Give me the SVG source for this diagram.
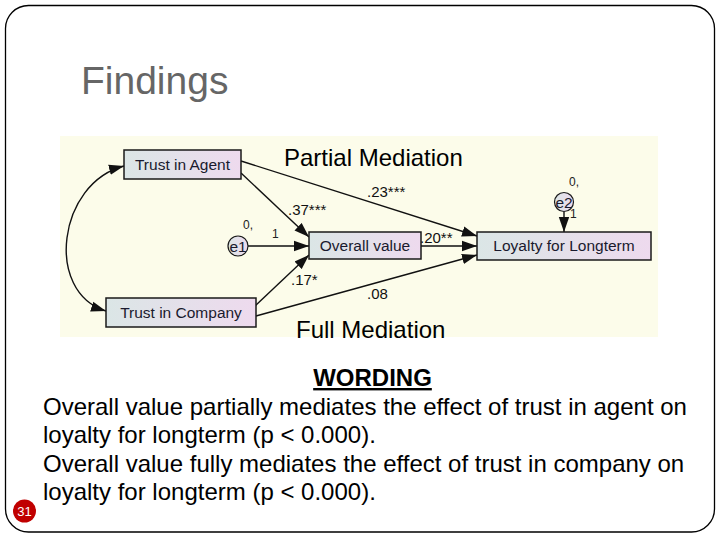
<svg xmlns="http://www.w3.org/2000/svg" width="720" height="540" viewBox="0 0 720 540">
  <style>
    .txt { font-family: "Liberation Sans", Arial, sans-serif; }
    .node rect { stroke: #1a1a1a; stroke-width: 1.5; fill: url(#nodeFill); }
    .node text { font-family: "Liberation Sans", Arial, sans-serif; font-size: 15.5px; fill: #1a1a2e; text-anchor: middle; }
    .err ellipse { stroke: #1a1a1a; stroke-width: 1.2; fill: url(#nodeFill); }
    .err text { font-family: "Liberation Sans", Arial, sans-serif; font-size: 15.5px; fill: #1a1a2e; text-anchor: middle; }
    .conn { stroke: #111; stroke-width: 1.4; fill: none; marker-end: url(#arr); }
    .coef { font-family: "Liberation Sans", Arial, sans-serif; font-size: 15px; fill: #111; }
    .small { font-family: "Liberation Sans", Arial, sans-serif; font-size: 12px; fill: #222; }
    .big { font-family: "Liberation Sans", Arial, sans-serif; font-size: 24px; fill: #000; }
  </style>
  <defs>
    <linearGradient id="nodeFill" x1="0" y1="0" x2="1" y2="0">
      <stop offset="0" stop-color="#dbe6e6"/>
      <stop offset="1" stop-color="#eedaee"/>
    </linearGradient>
    <marker id="arr" markerUnits="userSpaceOnUse" markerWidth="16" markerHeight="12" viewBox="0 0 16 12" refX="15" refY="6" orient="auto-start-reverse">
      <path d="M0,0.8 L15,6 L0,11.2 z" fill="#111"/>
    </marker>
  </defs>

  <rect x="0" y="0" width="720" height="540" fill="#ffffff"/>
  <rect x="5.5" y="5.5" width="709" height="526.5" rx="23" ry="23" fill="none" stroke="#000" stroke-width="1.3"/>

  <text class="txt" x="81" y="94" font-size="39" fill="#666666">Findings</text>

  <rect x="60" y="136" width="598" height="201" fill="#fcfcea"/>

  <text class="big" x="284" y="166">Partial Mediation</text>
  <text class="big" x="296" y="338">Full Mediation</text>

  <g id="connectors">
    <path class="conn" d="M241,173 L309,237"/>
    <path class="conn" d="M241,161 L477,236"/>
    <path class="conn" d="M421,246 L477,246"/>
    <path class="conn" d="M256,316 L477,255"/>
    <path class="conn" d="M255,306 L309,255"/>
    <path class="conn" d="M248,246 L309,246" stroke-width="1.1"/>
    <path class="conn" d="M564,211.5 L564,232"/>
    <path class="conn" d="M124,166 C58,183 44,292 106,311" style="marker-start:url(#arr)"/>
  </g>

  <g id="trust-agent" class="node">
    <rect x="124" y="150" width="117" height="29"/>
    <text x="182.5" y="170">Trust in Agent</text>
  </g>
  <g id="trust-company" class="node">
    <rect x="106" y="298" width="150" height="29"/>
    <text x="181" y="318">Trust in Company</text>
  </g>
  <g id="overall-value" class="node">
    <rect x="309" y="232" width="112" height="27"/>
    <text x="365" y="251">Overall value</text>
  </g>
  <g id="loyalty" class="node">
    <rect x="477" y="232" width="174" height="28"/>
    <text x="564" y="251">Loyalty for Longterm</text>
  </g>
  <g id="e1" class="err">
    <ellipse cx="238" cy="246" rx="10" ry="10"/>
    <text x="238" y="251.5">e1</text>
  </g>
  <g id="e2" class="err">
    <ellipse cx="564" cy="202" rx="9.5" ry="9.5"/>
    <text x="564" y="207.5">e2</text>
  </g>

  <g id="labels">
    <text class="coef" x="367" y="197">.23***</text>
    <text class="coef" x="288" y="215">.37***</text>
    <text class="coef" x="420" y="243">.20**</text>
    <text class="coef" x="291" y="285">.17*</text>
    <text class="coef" x="367" y="299">.08</text>
    <text class="small" x="243" y="229">0,</text>
    <text class="small" x="272" y="238">1</text>
    <text class="small" x="569" y="186">0,</text>
    <text class="small" x="570" y="218" font-size="8" fill="#c09030">1</text>
  </g>

  <text class="txt" x="372.5" y="386" font-size="24" font-weight="bold" text-anchor="middle" text-decoration="underline">WORDING</text>
  <text class="big" x="43" y="415">Overall value partially mediates the effect of trust in agent on</text>
  <text class="big" x="43" y="443">loyalty for longterm (p &lt; 0.000).</text>
  <text class="big" x="43" y="472">Overall value fully mediates the effect of trust in company on</text>
  <text class="big" x="43" y="500">loyalty for longterm (p &lt; 0.000).</text>

  <circle cx="24.5" cy="511" r="11.5" fill="#c00000"/>
  <text class="txt" x="24.5" y="515.5" font-size="13" fill="#ffffff" text-anchor="middle">31</text>
</svg>
